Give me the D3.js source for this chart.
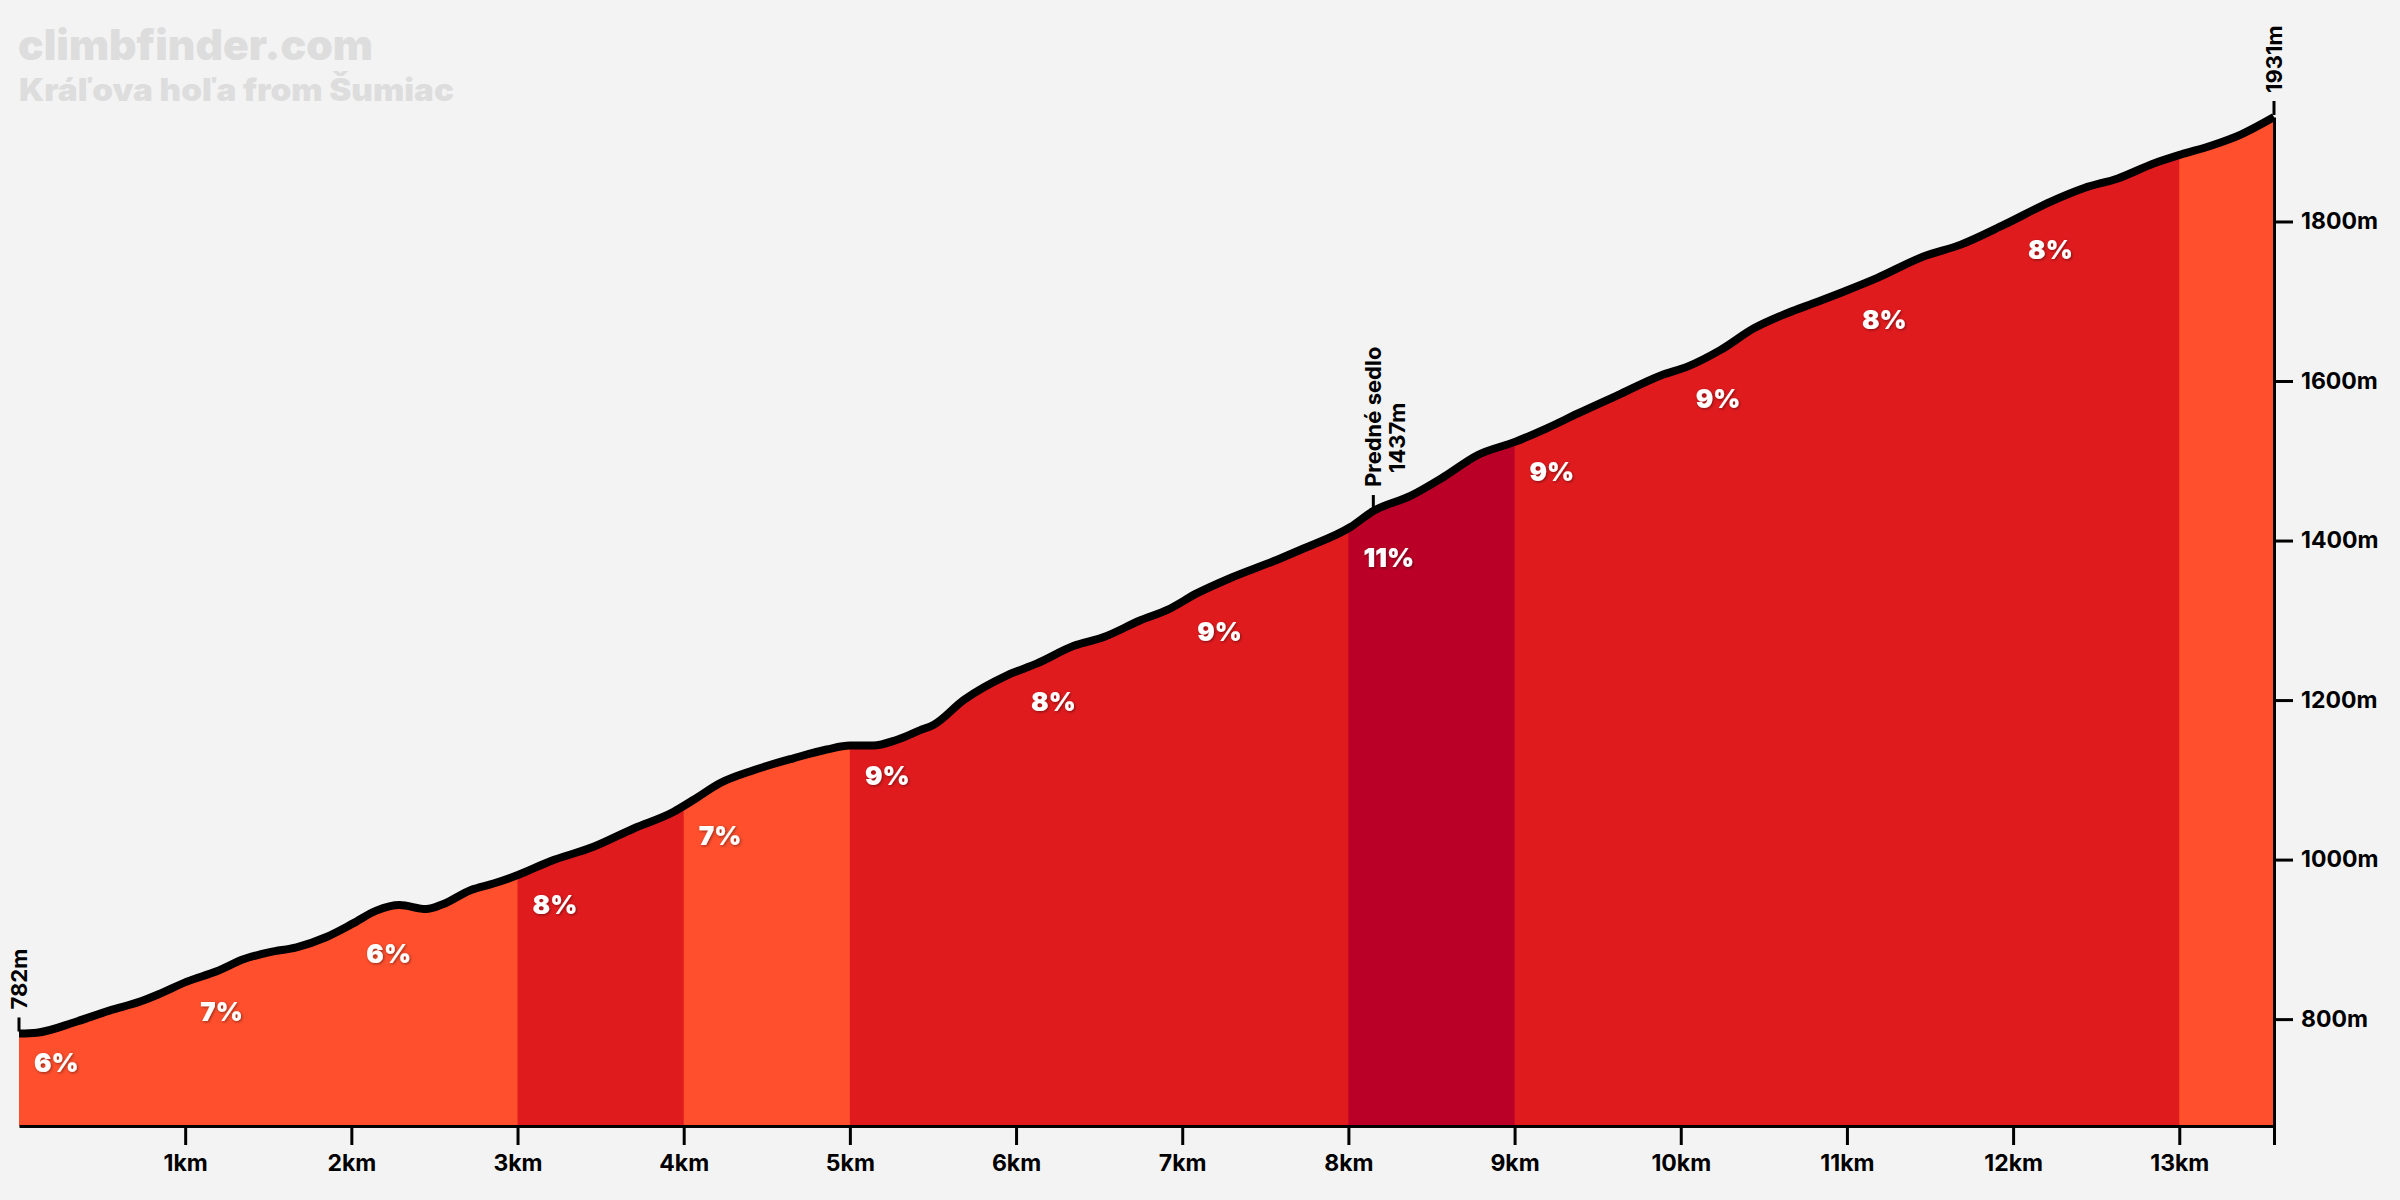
<!DOCTYPE html>
<html><head><meta charset="utf-8">
<script src="https://cdn.jsdelivr.net/npm/d3@7"></script>
<style>
html,body{margin:0;padding:0;background:#f3f3f3;}
svg{display:block;}
text{font-family:Inter, Lato, "Noto Sans", sans-serif;}
</style></head><body>
<svg id="chart" width="2400" height="1200"></svg>
<script>
// ---- data ----
const distances = [0, 0.107, 0.347, 0.548, 0.729, 0.849, 1.01, 1.19, 1.35, 1.51, 1.67, 1.85, 2.01, 2.15, 2.29, 2.45, 2.55, 2.72,
  2.855, 3.006, 3.197, 3.457, 3.699, 3.94, 4.06, 4.22, 4.42, 4.66, 4.86, 5.0, 5.14, 5.28, 5.42,
  5.505, 5.685, 5.946, 6.127, 6.348, 6.528, 6.749, 6.91, 7.09, 7.29, 7.572, 7.73, 8.013, 8.15,
  8.374, 8.575, 8.776, 9.006, 9.197, 9.378, 9.619, 9.88, 10.04, 10.24, 10.44, 10.64, 10.82,
  10.98, 11.18, 11.46, 11.685, 11.946, 12.227, 12.428, 12.63, 12.85, 13.01, 13.19, 13.37, 13.57];
const elevations = [782, 783, 797, 811, 822, 832, 847, 860, 875, 884, 890, 903, 920, 936, 943, 938, 944, 962,
  970, 981, 998, 1016, 1039, 1060, 1075, 1096, 1112, 1127, 1138, 1143, 1143, 1150, 1162,
  1169, 1200, 1231, 1246, 1268, 1279, 1300, 1313, 1334, 1353, 1376, 1390, 1417, 1437,
  1456, 1480, 1507, 1524, 1541, 1559, 1582, 1607, 1618, 1639, 1666, 1685, 1699,
  1712, 1729, 1756, 1771, 1796, 1825, 1842, 1854, 1873, 1884, 1895, 1909, 1931];

const segStarts = [0, 1, 2, 3, 4, 5, 6, 7, 8, 9, 10, 11, 12, 13];
const segEnds   = [1, 2, 3, 4, 5, 6, 7, 8, 9, 10, 11, 12, 13, 13.57];
const segGrades = ["6%", "7%", "6%", "8%", "7%", "9%", "8%", "9%", "11%", "9%", "9%", "8%", "8%", ""];
const segColors = ["#ff4f2d", "#ff4f2d", "#ff4f2d", "#e01b1e", "#ff4f2d", "#e01b1e", "#e01b1e", "#e01b1e",
                   "#bb0027", "#e01b1e", "#e01b1e", "#e01b1e", "#e01b1e", "#ff4f2d"];

const xTickValues = [1, 2, 3, 4, 5, 6, 7, 8, 9, 10, 11, 12, 13, 13.57];
const yTickValues = [800, 1000, 1200, 1400, 1600, 1800];

const markerDist = [0, 8.15, 13.57];
const markerElev = [782, 1437, 1931];
const markerLines = [["782m"], ["Predné sedlo", "1437m"], ["1931m"]];

const titleText = "climbfinder.com";
const subtitleText = "Kráľova hoľa from Šumiac";

// ---- drawing ----
const svg = d3.select("#chart");
const W = 2400, H = 1200;
svg.append("rect").attr("width", W).attr("height", H).attr("fill", "#f3f3f3");

const x = d3.scaleLinear().domain([0, 13.57]).range([19, 2274]);
const y = d3.scaleLinear().domain([666, 1931]).range([1126, 117]);

const profile = distances.map((d, i) => [d, elevations[i]]);
const elevAt = km => {
  const i = d3.bisector(p => p[0]).right(profile, km);
  if (i <= 0) return profile[0][1];
  if (i >= profile.length) return profile[profile.length - 1][1];
  const a = profile[i - 1], b = profile[i];
  return a[1] + (b[1] - a[1]) * (km - a[0]) / (b[0] - a[0]);
};

const defs = svg.append("defs");
const filt = defs.append("filter").attr("id", "shadow").attr("x", "-20%").attr("y", "-20%").attr("width", "140%").attr("height", "140%");
filt.append("feDropShadow").attr("dx", 1).attr("dy", 1).attr("stdDeviation", 1.5)
  .attr("flood-color", "#000").attr("flood-opacity", 0.45);

// title
svg.append("text").attr("x", 18).attr("y", 60).text(titleText)
  .attr("font-size", 42).attr("font-weight", 900).attr("fill", "#dddddd")
  .attr("textLength", 355).attr("lengthAdjust", "spacingAndGlyphs");
svg.append("text").attr("x", 19).attr("y", 101).text(subtitleText)
  .attr("font-size", 31).attr("font-weight", 900).attr("fill", "#dddddd")
  .attr("textLength", 435).attr("lengthAdjust", "spacingAndGlyphs");

// segments
const area = d3.area().x(d => x(d[0])).y0(y(666)).y1(d => y(d[1])).curve(d3.curveMonotoneX);
segStarts.forEach((s, i) => {
  const id = "clip" + i;
  const overlap = i < segStarts.length - 1 ? 1.5 : 0;
  defs.append("clipPath").attr("id", id).append("rect")
    .attr("x", x(s)).attr("y", 0).attr("width", x(segEnds[i]) - x(s) + overlap).attr("height", H);
  svg.append("path").datum(profile).attr("d", area)
    .attr("fill", segColors[i]).attr("clip-path", `url(#${id})`);
});

// profile line
const line = d3.line().x(d => x(d[0])).y(d => y(d[1])).curve(d3.curveMonotoneX);
svg.append("path").datum(profile).attr("d", line)
  .attr("fill", "none").attr("stroke", "#000").attr("stroke-width", 8)
  .attr("stroke-linejoin", "round").attr("stroke-linecap", "butt");

// grade labels
svg.append("g").selectAll("text").data(segStarts.map((s, i) => ({s, g: segGrades[i]})).filter(d => d.g))
  .join("text")
  .attr("x", d => x(d.s) + 15)
  .attr("y", d => y(elevAt(d.s)) + 39)
  .attr("font-size", 26).attr("font-weight", 900).attr("fill", "#fff")
  .attr("filter", "url(#shadow)")
  .text(d => d.g);

// axes
const xAxis = d3.axisBottom(x).tickValues(xTickValues)
  .tickFormat(d => Number.isInteger(d) ? d + "km" : "")
  .tickSize(19).tickSizeOuter(0).tickPadding(10);
const gx = svg.append("g").attr("transform", `translate(0,${y(666)})`).call(xAxis);
gx.select(".domain").attr("stroke", "#000").attr("stroke-width", 3);
gx.selectAll(".tick line").attr("stroke", "#000").attr("stroke-width", 3);
gx.selectAll(".tick text").attr("font-size", 23).attr("font-weight", 700).attr("fill", "#000")
  .attr("font-family", "Inter, Lato, sans-serif");

const yAxis = d3.axisRight(y).tickValues(yTickValues).tickFormat(d => d + "m")
  .tickSize(19).tickSizeOuter(0).tickPadding(8);
const gy = svg.append("g").attr("transform", `translate(${x(13.57)},0)`).call(yAxis);
gy.select(".domain").attr("stroke", "#000").attr("stroke-width", 3);
gy.selectAll(".tick line").attr("stroke", "#000").attr("stroke-width", 3);
gy.selectAll(".tick text").attr("font-size", 23).attr("font-weight", 700).attr("fill", "#000")
  .attr("font-family", "Inter, Lato, sans-serif");

// markers
markerDist.forEach((d, i) => {
  const mx = x(d), my = y(markerElev[i]);
  svg.append("line").attr("x1", mx).attr("x2", mx).attr("y1", my - 2).attr("y2", my - 16)
    .attr("stroke", "#000").attr("stroke-width", 3);
  markerLines[i].forEach((t, j) => {
    svg.append("text")
      .attr("transform", `translate(${mx + j * 24},${my - 24 - j * 14}) rotate(-90)`)
      .attr("dy", "0.36em")
      .attr("font-size", 22).attr("font-weight", 700).attr("fill", "#000")
      .text(t);
  });
});
</script>
</body></html>
